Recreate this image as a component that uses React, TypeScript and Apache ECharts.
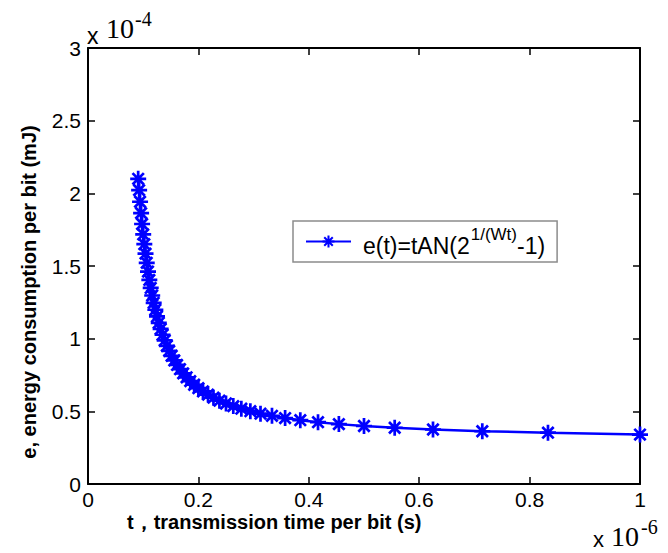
import React, { useEffect, useRef } from "react";
import * as echarts from "echarts";

// transmission time per bit (x 1e-6 s)
const tValues = [
  0.0909, 0.0926, 0.0943, 0.0962, 0.098, 0.1, 0.102, 0.1042, 0.1064, 0.1087,
  0.1111, 0.1136, 0.1163, 0.119, 0.122, 0.125, 0.1282, 0.1316, 0.1351, 0.1389,
  0.1429, 0.1471, 0.1515, 0.1563, 0.1613, 0.1667, 0.1724, 0.1786, 0.1852, 0.1923,
  0.2, 0.2083, 0.2174, 0.2273, 0.2381, 0.25, 0.2632, 0.2778, 0.2941, 0.3125,
  0.3333, 0.3571, 0.3846, 0.4167, 0.4545, 0.5, 0.5556, 0.625, 0.7143, 0.8333, 1.0,
];
// energy consumption per bit (x 1e-4 mJ)
const eValues = [
  2.1, 2.022, 1.942, 1.864, 1.789, 1.717, 1.65, 1.585, 1.522, 1.462,
  1.404, 1.349, 1.297, 1.247, 1.199, 1.153, 1.109, 1.067, 1.027, 0.988,
  0.951, 0.916, 0.882, 0.85, 0.819, 0.79, 0.761, 0.734, 0.708, 0.683,
  0.659, 0.637, 0.615, 0.594, 0.573, 0.554, 0.536, 0.518, 0.501, 0.484,
  0.469, 0.454, 0.439, 0.425, 0.412, 0.399, 0.387, 0.375, 0.363, 0.353, 0.34,
];
const seriesName = "e(t)=tAN(2^(1/(Wt))-1)";
const xTitle = "t，transmission time per bit (s)";
const yTitle = "e, energy consumption per bit (mJ)";

const ASTERISK =
  "path://M-1.7,-10L1.7,-10L1.7,10L-1.7,10Z" +
  "M-10,-1.7L10,-1.7L10,1.7L-10,1.7Z" +
  "M-5.9,-8.3L8.3,5.9L5.9,8.3L-8.3,-5.9Z" +
  "M5.9,-8.3L8.3,-5.9L-5.9,8.3L-8.3,5.9Z";

const SANS = "Liberation Sans, Arial, sans-serif";
const SERIF = "Liberation Serif, Times New Roman, serif";

export default function App() {
  const ref = useRef<HTMLDivElement>(null);
  useEffect(() => {
    if (!ref.current) return;
    const chart = echarts.init(ref.current, undefined, { renderer: "svg" });
    const data = tValues.map((t, i) => [t, eValues[i]]);
    const axisLine = { show: true, onZero: false, lineStyle: { color: "#000", width: 2 } };
    const tick = { show: true, inside: true, length: 7, lineStyle: { color: "#000", width: 1.5 } };
    const label = { color: "#000", fontSize: 21, fontFamily: SANS };
    chart.setOption({
      animation: false,
      backgroundColor: "#fff",
      grid: { left: 88, right: 28, top: 48, bottom: 69, containLabel: false },
      xAxis: [
        {
          type: "value", min: 0, max: 1, interval: 0.2, position: "bottom",
          axisLine, axisTick: tick, splitLine: { show: false },
          axisLabel: { ...label, margin: 5 },
        },
        {
          type: "value", min: 0, max: 1, interval: 0.2, position: "top",
          axisLine, axisTick: tick, splitLine: { show: false }, axisLabel: { show: false },
        },
      ],
      yAxis: [
        {
          type: "value", min: 0, max: 3, interval: 0.5, position: "left",
          axisLine, axisTick: tick, splitLine: { show: false },
          axisLabel: { ...label, margin: 7 },
        },
        {
          type: "value", min: 0, max: 3, interval: 0.5, position: "right",
          axisLine, axisTick: tick, splitLine: { show: false }, axisLabel: { show: false },
        },
      ],
      legend: {
        show: true,
        left: 293,
        top: 221,
        orient: "vertical",
        padding: [5, 12, 5, 12],
        backgroundColor: "#fff",
        borderColor: "#8c8c8c",
        borderWidth: 1.5,
        borderRadius: 0,
        itemWidth: 45,
        itemHeight: 15,
        data: [seriesName],
        formatter: () => "{a0|e(t)=tAN(2}{s|1/(Wt)}{a|-1)}",
        textStyle: {
          color: "#000",
          fontFamily: SANS,
          rich: {
            a0: { fontSize: 23, lineHeight: 23, padding: [8, 0, 0, 7], fontFamily: SANS, color: "#000" },
            a: { fontSize: 23, lineHeight: 23, padding: [8, 0, 0, 0], fontFamily: SANS, color: "#000" },
            s: { fontSize: 17, lineHeight: 17, padding: [0, 0, 14, 1], fontFamily: SANS, color: "#000" },
          },
        },
      },
      series: [
        {
          name: seriesName,
          type: "line",
          data,
          xAxisIndex: 0,
          yAxisIndex: 0,
          symbol: ASTERISK,
          symbolSize: 16,
          showSymbol: true,
          showAllSymbol: true,
          lineStyle: { color: "#0000ff", width: 2.5 },
          itemStyle: { color: "#0000ff" },
          emphasis: { disabled: true },
        },
      ],
      graphic: [
        {
          type: "text", x: 29, y: 292, rotation: Math.PI / 2,
          style: {
            text: yTitle, fill: "#000", font: `bold 20px ${SANS}`,
            align: "center", verticalAlign: "middle",
          },
        },
        {
          type: "text", x: 127, y: 522,
          style: {
            text: xTitle, fill: "#000", font: `bold 20px ${SANS}`,
            align: "left", verticalAlign: "middle",
          },
        },
        { type: "text", x: 87, y: 36, style: { text: "x", fill: "#000", font: `23px ${SANS}`, align: "left", verticalAlign: "middle" } },
        { type: "text", x: 106, y: 28, style: { text: "10", fill: "#000", font: `28px ${SERIF}`, align: "left", verticalAlign: "middle" } },
        { type: "text", x: 135, y: 19, style: { text: "-4", fill: "#000", font: `20px ${SERIF}`, align: "left", verticalAlign: "middle" } },
        { type: "text", x: 593, y: 539, style: { text: "x", fill: "#000", font: `22px ${SANS}`, align: "left", verticalAlign: "middle" } },
        { type: "text", x: 611, y: 536, style: { text: "10", fill: "#000", font: `28px ${SERIF}`, align: "left", verticalAlign: "middle" } },
        { type: "text", x: 641, y: 527, style: { text: "-6", fill: "#000", font: `20px ${SERIF}`, align: "left", verticalAlign: "middle" } },
      ],
    });
    return () => chart.dispose();
  }, []);
  return <div ref={ref} style={{ width: 668, height: 553, position: "fixed", left: 0, top: 0 }} />;
}
